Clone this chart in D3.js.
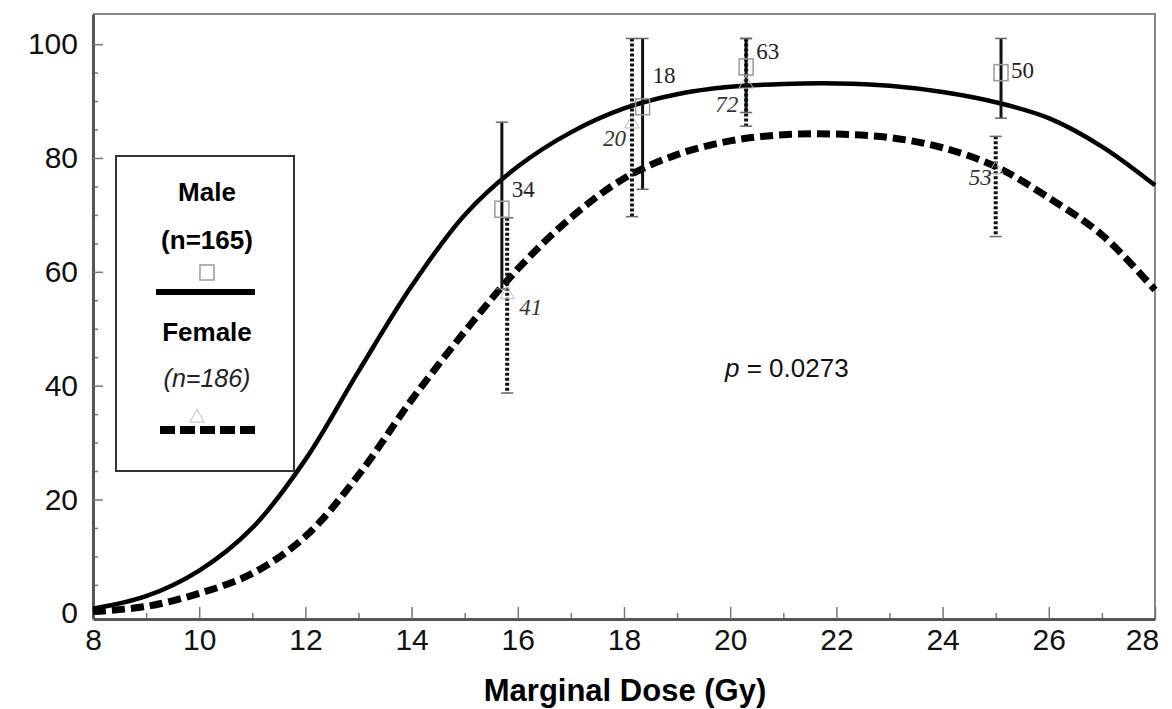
<!DOCTYPE html>
<html>
<head>
<meta charset="utf-8">
<script src="https://cdn.jsdelivr.net/npm/d3@7"></script>
<style>
  body { margin: 0; background: #fff; }
  svg { display: block; }
</style>
</head>
<body>
<script>
// fitted curves at each whole Gy
const doses = [8, 9, 10, 11, 12, 13, 14, 15, 16, 17, 18, 19, 20, 21, 22, 23, 24, 25, 26, 27, 28]
const maleCurve = [0.8, 3, 7.5, 15, 27, 42.5, 57.5, 70, 78.5, 84.5, 88.7, 91.2, 92.5, 93, 93.1, 92.7, 91.6, 89.8, 87, 82, 75.2]
const femaleCurve = [0.3, 1.2, 3.5, 7, 13.5, 24.3, 37.5, 49.5, 60.5, 69.5, 76.4, 80.6, 83, 84.1, 84.2, 83.6, 81.8, 78.5, 73, 66.5, 56.8]

// observed points with error bars
const maleDose = [15.7, 18.35, 20.3, 25.1]
const maleMean = [71, 89, 96, 95]
const maleLo = [57, 74.5, 88, 87]
const maleHi = [86.3, 101, 101, 101]
const maleN = [34, 18, 63, 50]

const femaleDose = [15.8, 18.15, 20.3, 25.0]
const femaleMean = [56, 86, 93, 78]
const femaleLo = [38.7, 69.7, 85.6, 66.2]
const femaleHi = [69.5, 101, 101, 83.8]
const femaleN = [41, 20, 72, 53]

const xTicks = [8, 10, 12, 14, 16, 18, 20, 22, 24, 26, 28]
const yTicks = [0, 20, 40, 60, 80, 100]

const w = 1172
const h = 709
const sans = "'Liberation Sans', Arial, sans-serif"
const serif = "'Liberation Serif', 'Times New Roman', serif"

const svg = d3.select("body").append("svg")
  .attr("width", w).attr("height", h)

const x = d3.scaleLinear().domain([8, 28]).range([93, 1155])
const y = d3.scaleLinear().domain([-1, 105.3]).range([619, 14])

// frame (top + right)
svg.append("path")
  .attr("d", `M${x(8)},${y(105.3)}H${x(28)}V${y(-1)}`)
  .attr("fill", "none").attr("stroke", "#888").attr("stroke-width", 2)

// minor ticks
svg.append("g")
  .attr("transform", `translate(0,${y(-1)})`)
  .call(d3.axisBottom(x).tickValues(d3.range(9, 28, 2)).tickSize(-6).tickFormat(""))
  .call(g => g.select(".domain").remove())
  .call(g => g.selectAll("line").attr("stroke", "#777").attr("stroke-width", 1.5))
svg.append("g")
  .attr("transform", `translate(${x(8)},0)`)
  .call(d3.axisLeft(y).tickValues(d3.range(5, 105, 5).filter(v => v % 20)).tickSize(-5).tickFormat(""))
  .call(g => g.select(".domain").remove())
  .call(g => g.selectAll("line").attr("stroke", "#777").attr("stroke-width", 1.5))

// main axes
const xAxis = svg.append("g")
  .attr("transform", `translate(0,${y(-1)})`)
  .call(d3.axisBottom(x).tickValues(xTicks).tickSize(-12).tickSizeOuter(0).tickPadding(10))
const yAxis = svg.append("g")
  .attr("transform", `translate(${x(8)},0)`)
  .call(d3.axisLeft(y).tickValues(yTicks).tickSize(-10).tickSizeOuter(0).tickPadding(15))

;[xAxis, yAxis].forEach(g => {
  g.select(".domain").attr("stroke", "#555").attr("stroke-width", 3)
  g.selectAll(".tick line").attr("stroke", "#777").attr("stroke-width", 1.5)
  g.selectAll("text").attr("font-family", sans).attr("font-size", 30).attr("fill", "#111")
})
// last label sits a little inside the frame
xAxis.selectAll(".tick text").filter(d => d === 28).attr("dx", -13)

svg.append("text")
  .attr("x", 625).attr("y", 701)
  .attr("text-anchor", "middle")
  .attr("font-family", sans).attr("font-size", 31).attr("font-weight", "bold")
  .text("Marginal Dose (Gy)")

// curves
const line = d3.line()
  .x((d, i) => x(doses[i]))
  .y(d => y(d))
  .curve(d3.curveCatmullRom.alpha(0.5))

svg.append("path")
  .attr("d", line(femaleCurve))
  .attr("fill", "none").attr("stroke", "#000").attr("stroke-width", 7)
  .attr("stroke-dasharray", "13,6")

svg.append("path")
  .attr("d", line(maleCurve))
  .attr("fill", "none").attr("stroke", "#000").attr("stroke-width", 4.5)

// error bars
function bars(dose, lo, hi, dashed) {
  const g = svg.append("g")
  g.selectAll("line.bar").data(dose).enter().append("line")
    .attr("x1", d => x(d)).attr("x2", d => x(d))
    .attr("y1", (d, i) => y(hi[i])).attr("y2", (d, i) => y(lo[i]))
    .attr("stroke", "#111").attr("stroke-width", dashed ? 4 : 3)
    .attr("stroke-dasharray", dashed ? "3,2" : null)
  const caps = dose.flatMap((d, i) => [[d, hi[i]], [d, lo[i]]])
  g.selectAll("line.cap").data(caps).enter().append("line")
    .attr("x1", d => x(d[0]) - 6).attr("x2", d => x(d[0]) + 6)
    .attr("y1", d => y(d[1])).attr("y2", d => y(d[1]))
    .attr("stroke", "#666").attr("stroke-width", 1.5)
}
bars(femaleDose, femaleLo, femaleHi, true)
bars(maleDose, maleLo, maleHi, false)

// markers
svg.selectAll("rect.male").data(maleDose).enter().append("rect")
  .attr("x", d => x(d) - 7).attr("y", (d, i) => y(maleMean[i]) - 8)
  .attr("width", 14).attr("height", 16)
  .attr("fill", "none").attr("stroke", "#999").attr("stroke-width", 1.5)

const tri = d3.symbol().type(d3.symbolTriangle).size(90)
svg.selectAll("path.female").data(femaleDose).enter().append("path")
  .attr("d", tri)
  .attr("transform", (d, i) => `translate(${x(d)},${y(femaleMean[i])})`)
  .attr("fill", "none").attr("stroke", "#bbb").attr("stroke-width", 1)

// n labels
const maleDy = [-20, -32, -16, -3]
svg.selectAll("text.mn").data(maleN).enter().append("text")
  .attr("x", (d, i) => x(maleDose[i]) + 10)
  .attr("y", (d, i) => y(maleMean[i]) + maleDy[i] + 8)
  .attr("font-family", serif).attr("font-size", 23).attr("fill", "#222")
  .text(d => d)

const femaleDx = [12, -6, -8, -4]
const femaleDy = [12, 14, 20, 8]
svg.selectAll("text.fn").data(femaleN).enter().append("text")
  .attr("x", (d, i) => x(femaleDose[i]) + femaleDx[i])
  .attr("y", (d, i) => y(femaleMean[i]) + femaleDy[i] + 8)
  .attr("text-anchor", (d, i) => femaleDx[i] > 0 ? "start" : "end")
  .attr("font-family", serif).attr("font-style", "italic").attr("font-size", 23).attr("fill", "#333")
  .text(d => d)

// p value
const pt = svg.append("text")
  .attr("x", 725).attr("y", 377)
  .attr("font-family", sans).attr("font-size", 26).attr("fill", "#111")
pt.append("tspan").attr("font-style", "italic").text("p")
pt.append("tspan").text(" = 0.0273")

// legend
const lg = svg.append("g")
lg.append("rect")
  .attr("x", 116).attr("y", 156).attr("width", 178).attr("height", 315)
  .attr("fill", "#fff").attr("stroke", "#333").attr("stroke-width", 2)

const lx = 207
lg.append("text").attr("x", lx).attr("y", 201).attr("text-anchor", "middle")
  .attr("font-family", sans).attr("font-size", 26).attr("font-weight", "bold").text("Male")
lg.append("text").attr("x", lx).attr("y", 249).attr("text-anchor", "middle")
  .attr("font-family", sans).attr("font-size", 26).attr("font-weight", "bold").text("(n=165)")
lg.append("rect").attr("x", lx - 7).attr("y", 265).attr("width", 14).attr("height", 15)
  .attr("fill", "none").attr("stroke", "#999").attr("stroke-width", 1.5)
lg.append("line").attr("x1", 156).attr("x2", 255).attr("y1", 292).attr("y2", 292)
  .attr("stroke", "#000").attr("stroke-width", 6)
lg.append("text").attr("x", lx).attr("y", 341).attr("text-anchor", "middle")
  .attr("font-family", sans).attr("font-size", 26).attr("font-weight", "bold").text("Female")
lg.append("text").attr("x", lx).attr("y", 387).attr("text-anchor", "middle")
  .attr("font-family", sans).attr("font-size", 25).attr("font-style", "italic").attr("fill", "#222").text("(n=186)")
lg.append("path").attr("d", tri).attr("transform", "translate(197,418)")
  .attr("fill", "none").attr("stroke", "#bbb").attr("stroke-width", 1)
lg.append("line").attr("x1", 160).attr("x2", 257).attr("y1", 430).attr("y2", 430)
  .attr("stroke", "#000").attr("stroke-width", 8).attr("stroke-dasharray", "15,5")
</script>
</body>
</html>
